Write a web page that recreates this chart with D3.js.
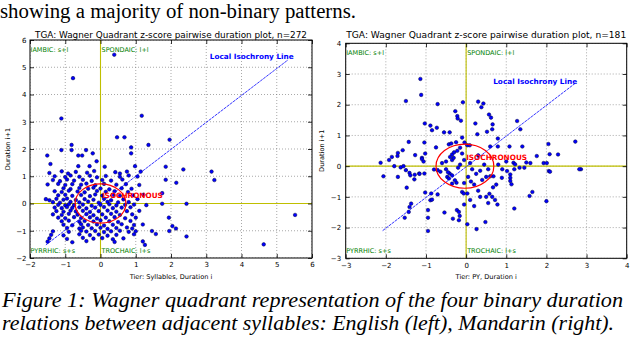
<!DOCTYPE html>
<html><head><meta charset="utf-8">
<script src="https://cdn.jsdelivr.net/npm/d3@7"></script>
<style>body{margin:0;background:#fff}svg{display:block}</style>
</head><body><svg id="c" width="630" height="338"></svg>
<script>
const topText = "showing a majority of non-binary patterns.";
const captionLines = ["Figure 1: Wagner quadrant representation of the four binary duration",
                      "relations between adjacent syllables: English (left), Mandarin (right)."];
const quadrantLabels = ["IAMBIC: s+l", "SPONDAIC: l+l", "PYRRHIC: s+s", "TROCHAIC: l+s"];
const titles = ["TGA: Wagner Quadrant z-score pairwise duration plot, n=272",
                "TGA: Wagner Quadrant z-score pairwise duration plot, n=181"];
const xLabels = ["Tier: Syllables, Duration i", "Tier: PY, Duration i"];
const yLabel = "Duration i+1";
const englishXTicks = [-2,-1,0,1,2,3,4,5,6];
const englishYTicks = [-2,-1,0,1,2,3,4,5,6];
const mandarinXTicks = [-3,-2,-1,0,1,2,3,4];
const mandarinYTicks = [-3,-2,-1,0,1,2,3,4];
const englishIsoLine = [[-1.55,-1.52],[5.32,5.27]];
const mandarinIsoLine = [[-2.08,-2.1],[2.72,2.7]];
const isoRadius = 0.72;

const englishPoints = [
 [0.39,5.46],[-0.78,4.6],[-1.11,3.12],[1.17,3.22],[0.47,2.43],[0.68,2.43],[0.87,2.06],[0.87,1.84],[1.36,2.15],[1.96,2.34],
 [-1.51,1.76],[-1.42,1.45],[-1.11,1.96],[-0.82,2.15],[-0.82,1.96],[-0.63,1.76],[-0.52,1.76],[-0.41,1.96],[-0.22,1.84],[-0.11,1.55],
 [-0.63,1.37],[-0.31,1.37],[0.98,1.37],[1.85,1.35],[2.35,1.25],[0.12,1.35],
 [1.14,1.17],[3.15,1.17],[3.23,0.86],[1.85,0.87],[2.15,0.76],[1.75,0.38],[1.75,-0.01],[2.44,-0.01],[1.94,-0.52],[2.04,-0.83],
 [1.95,-1.01],[2.14,-0.92],[2.44,-1.21],[1.57,-1.12],[5.52,-0.42],[4.63,-1.5],[1.46,-1.01],[1.26,-1.52],
 [-1.45,1.12],[-1.1,1.18],[-0.92,1.1],[-0.7,1.16],[-0.38,1.13],[-0.18,1.19],[0.42,1.15],[0.55,1.1],[0.75,1.17],
 [-1.3,1.0],[-1.0,0.97],[-0.85,1.03],[-0.6,0.98],[-0.3,1.02],[-0.1,0.96],[0.15,1.01],[0.55,0.98],[0.8,1.03],[1.05,0.99],
 [-1.35,0.86],[-1.15,0.82],[-0.95,0.88],[-0.75,0.84],[-0.5,0.87],[-0.25,0.83],[0.05,0.86],[0.3,0.84],[0.62,0.88],
 [-1.5,0.7],[-1.2,0.72],[-1.0,0.68],[-0.8,0.71],[-0.55,0.69],[-0.4,0.73],[-0.15,0.67],[0.1,0.72],[0.45,0.69],[0.72,0.71],[1.1,0.68],
 [-1.05,0.56],[-0.85,0.53],[-0.6,0.57],[-0.35,0.54],[-0.2,0.58],[0.0,0.55],[0.25,0.52],[0.6,0.56],[0.88,0.54],
 [-1.3,0.45],[-1.1,0.42],[-0.9,0.47],[-0.65,0.44],[-0.45,0.41],[-0.1,0.46],[0.15,0.43],[0.4,0.45],[0.78,0.42],
 [-1.2,0.3],[-1.0,0.32],[-0.8,0.28],[-0.55,0.31],[-0.3,0.27],[-0.15,0.33],[0.05,0.29],[0.35,0.31],[0.55,0.28],[0.92,0.3],[1.22,0.32],
 [-1.55,0.16],[-1.45,0.12],[-1.25,0.17],[-1.05,0.14],[-0.95,0.18],[-0.7,0.13],[-0.45,0.16],[-0.2,0.14],[0.1,0.17],[0.3,0.12],[0.65,0.15],[1.05,0.16],
 [-1.35,0.05],[-1.15,0.03],[-0.85,0.06],[-0.6,0.04],[-0.35,0.07],[-0.05,0.03],[0.2,0.06],[0.5,0.04],[0.8,0.05],
 [-1.2,-0.05],[-1.0,-0.07],[-0.9,-0.03],[-0.75,-0.06],[-0.5,-0.04],[-0.25,-0.08],[0.0,-0.05],[0.25,-0.03],[0.45,-0.07],[0.7,-0.05],[0.95,-0.04],[1.3,-0.06],
 [-1.3,-0.15],[-1.1,-0.17],[-0.95,-0.13],[-0.8,-0.16],[-0.6,-0.14],[-0.4,-0.18],[-0.15,-0.15],[0.1,-0.13],[0.35,-0.17],[0.6,-0.15],[0.85,-0.14],
 [-1.25,-0.28],[-1.05,-0.3],[-0.85,-0.26],[-0.7,-0.29],[-0.5,-0.27],[-0.3,-0.31],[-0.05,-0.28],[0.2,-0.26],[0.45,-0.3],[0.75,-0.28],[1.1,-0.27],
 [-1.35,-0.4],[-1.1,-0.42],[-0.9,-0.38],[-0.65,-0.41],[-0.4,-0.39],[-0.2,-0.43],[0.05,-0.4],[0.3,-0.38],[0.55,-0.42],[0.9,-0.4],
 [-1.2,-0.52],[-1.0,-0.54],[-0.75,-0.5],[-0.55,-0.53],[-0.3,-0.51],[-0.1,-0.55],[0.15,-0.52],[0.4,-0.5],[0.7,-0.54],[1.0,-0.52],
 [-1.1,-0.65],[-0.9,-0.63],[-0.6,-0.67],[-0.45,-0.64],[-0.2,-0.66],[0.0,-0.62],[0.25,-0.65],[0.5,-0.68],[0.85,-0.64],
 [-1.05,-0.78],[-0.8,-0.8],[-0.55,-0.76],[-0.35,-0.79],[-0.1,-0.77],[0.1,-0.81],[0.35,-0.78],[0.6,-0.76],[0.95,-0.79],[1.2,-0.77],
 [-0.95,-0.9],[-0.6,-0.92],[-0.5,-0.88],[-0.25,-0.91],[0.0,-0.89],[0.2,-0.93],[0.45,-0.9],[0.75,-0.88],[0.9,-0.92],
 [-1.35,-1.02],[-0.9,-1.04],[-0.55,-1.0],[-0.4,-1.03],[-0.15,-1.01],[0.1,-1.05],[0.3,-1.02],[0.55,-1.0],[0.8,-1.04],[1.0,-1.02],
 [-1.4,-1.15],[-1.05,-1.17],[-0.6,-1.13],[-0.3,-1.16],[-0.05,-1.14],[0.2,-1.18],[0.45,-1.15],[0.95,-1.13],
 [-1.45,-1.28],[-0.95,-1.3],[-0.5,-1.26],[-0.2,-1.29],[0.05,-1.27],[0.35,-1.31],[0.65,-1.28],
 [-1.5,-1.4],[-0.8,-1.42],[-0.4,-1.38],[0.4,-1.41],[1.2,-1.39]
];

const mandarinPoints = [
 [-1.14,2.84],[-1.12,2.32],[-1.5,2.12],[-0.71,2.02],[-0.08,2.08],[0.3,2.1],[0.43,2.04],[0.38,1.92],[-0.27,1.79],[-0.22,1.63],
 [-0.21,1.55],[-0.13,1.48],[0.57,1.68],[0.62,1.58],[0.23,1.39],[0.66,1.36],[0.65,1.2],[1.27,1.47],[1.35,1.2],[-1.03,1.39],
 [-0.89,1.32],[-0.85,1.17],[-0.73,1.25],[-0.55,1.1],[-0.41,1.1],[0.28,1.04],[0.52,1.12],[-0.1,0.93],[-0.04,0.77],[0.03,0.68],
 [0.09,0.68],[0.79,0.9],[0.79,0.64],[1.08,0.64],[1.4,0.64],[2.05,0.72],[2.72,0.8],[-1.43,0.79],[-1.04,0.77],[-1.27,0.36],
 [-1.58,0.52],[-1.7,0.43],[-1.71,0.33],[-1.85,0.3],[-1.92,0.2],[-2.13,0.11],[-1.1,0.27],[-1.02,0.41],[-0.75,0.61],[-0.43,0.71],
 [-0.37,0.74],[-0.25,0.78],[-0.35,0.2],[-0.31,0.27],[-0.1,0.41],[0.6,0.64],[1.76,0.33],[2.08,0.39],[2.29,0.38],[1.93,0.1],
 [2.01,0.1],[1.6,0.1],[1.18,0.11],[1.22,0.06],[2.86,-0.1],
 [-1.79,0.0],[-1.63,-0.04],[-1.56,0.0],[-2.06,-0.33],[-1.7,-0.35],[-1.5,-0.13],[-1.41,-0.22],[-1.29,-0.43],[-1.48,-0.7],[-1.17,-0.24],
 [-1.04,-0.24],[-1.02,-0.86],[-0.87,-0.89],[-0.89,-1.11],[-0.85,-1.09],[-1.37,-1.22],[-1.41,-1.33],[-1.43,-1.49],[-1.53,-1.68],[-0.95,-1.43],
 [-0.95,-1.68],[-0.95,-2.11],[-0.54,-1.51],[-0.33,-1.71],[-0.23,-1.43],[-0.18,-1.49],[-0.16,-1.62],[-0.18,-1.76],[0.03,-1.89],[0.26,-2.05],
 [0.48,-1.82],[-0.8,-0.11],[-0.71,-0.13],[-0.64,-0.18],[-0.71,-0.92],[-0.47,-0.35],[-0.43,-0.4],[-0.41,-0.24],[-0.35,-0.57],[-0.24,-0.54],
 [-0.28,-0.46],[-0.1,-0.84],[-0.06,-0.89],[0.03,-0.89],[-1.1,0.23],[-1.06,0.15],[-1.39,-0.3],[-1.28,-0.28],[-1.16,-0.25],
 [-0.6,0.1],[-0.5,0.15],[-0.4,0.3],[-0.35,0.38],[-0.3,0.45],[-0.22,0.5],[-0.15,0.6],[-0.5,-0.1],[-0.45,-0.2],[-0.35,-0.3],
 [-0.2,-0.05],[-0.15,0.05],[-0.05,0.2],[0.1,0.1],[0.15,-0.1],[0.25,-0.25],[0.35,-0.15],[0.45,0.05],[0.55,-0.1],[0.3,0.35],
 [0.05,-0.35],[0.12,-0.5],[0.2,-0.6],[0.4,-0.45],[0.5,-0.35],[-0.05,-0.55],
 [0.58,-0.9],[0.65,-1.0],[0.55,-1.2],[0.3,-0.8],[0.35,-1.0],[0.1,-1.1],[0.2,-1.3],[-0.05,-1.25],[0.5,-1.0],[0.72,-1.1],
 [0.78,-1.25],[1.2,-1.38],[1.65,-0.84],[1.58,-0.97],[2.0,-1.14],[0.67,-0.69],[0.89,-0.38],[0.68,-0.33],[0.6,-0.33],[1.1,-0.27],
 [1.1,-0.38],[1.1,-0.48],[1.02,-0.16],[1.2,-0.1],[1.33,-0.05],[1.45,-0.05],[2.06,-0.16],[2.82,-0.1],[1.13,-0.59],[2.09,-0.18],
 [0.9,-0.1],[0.8,0.05],[1.0,0.15],[1.5,0.12],[0.75,-0.6]
];

const svg = d3.select("#c");
svg.append("rect").attr("width",630).attr("height",338).attr("fill","#fff");
const SANS = "DejaVu Sans, sans-serif";
const SERIF = "Liberation Serif, serif";
const fmt = d => d < 0 ? "\u2212" + Math.abs(d) : String(d);

function panel(o) {
  const x = d3.scaleLinear().domain(o.xd).range([o.left, o.right]);
  const y = d3.scaleLinear().domain(o.yd).range([o.bottom, o.top]);
  const g = svg.append("g");
  const clipId = o.id + "clip";
  svg.append("clipPath").attr("id", clipId).append("rect")
    .attr("x", o.left).attr("y", o.top).attr("width", o.right - o.left).attr("height", o.bottom - o.top);
  const inner = g.append("g").attr("clip-path", `url(#${clipId})`);
  inner.selectAll(".gx").data(o.xt).join("line")
    .attr("x1", d => x(d)).attr("x2", d => x(d)).attr("y1", o.top).attr("y2", o.bottom)
    .attr("stroke", "#6e6e6e").attr("stroke-width", 0.6).attr("stroke-dasharray", "1,2");
  inner.selectAll(".gy").data(o.yt).join("line")
    .attr("y1", d => y(d)).attr("y2", d => y(d)).attr("x1", o.left).attr("x2", o.right)
    .attr("stroke", "#6e6e6e").attr("stroke-width", 0.6).attr("stroke-dasharray", "1,2");
  inner.append("line").attr("x1", x(0)).attr("x2", x(0)).attr("y1", o.top).attr("y2", o.bottom)
    .attr("stroke", "#bfbf00").attr("stroke-width", 1.1);
  inner.append("line").attr("y1", y(0)).attr("y2", y(0)).attr("x1", o.left).attr("x2", o.right)
    .attr("stroke", "#bfbf00").attr("stroke-width", 1.1);
  inner.selectAll("circle.pt").data(o.points).join("circle").attr("class", "pt")
    .attr("cx", d => x(d[0])).attr("cy", d => y(d[1])).attr("r", 1.8)
    .attr("fill", "#0000ff").attr("stroke", "#000040").attr("stroke-width", 0.5);
  inner.append("path").attr("d", d3.line().x(d => x(d[0])).y(d => y(d[1]))(o.iso))
    .attr("stroke", "#0000ff").attr("stroke-width", 0.8).attr("fill", "none").attr("stroke-dasharray", "3,0.8");
  inner.append("ellipse").attr("cx", x(o.ec)).attr("cy", y(0))
    .attr("rx", x(isoRadius) - x(0)).attr("ry", y(0) - y(isoRadius))
    .attr("fill", "none").attr("stroke", "#ff0000").attr("stroke-width", 1.2);
  const ql = [[o.left + 0.5, o.top + 12], [x(0) + 1, o.top + 12], [o.left + 0.5, o.bottom - 5], [x(0) + 1, o.bottom - 5]];
  g.selectAll("text.q").data(quadrantLabels).join("text").attr("class", "q")
    .attr("x", (d, i) => ql[i][0]).attr("y", (d, i) => ql[i][1])
    .attr("font-family", SANS).attr("font-size", 6.5).attr("fill", "#008000").text(d => d);
  g.append("text").attr("x", x(o.isoLabel[0])).attr("y", y(o.isoLabel[1]))
    .attr("font-family", SANS).attr("font-size", 7.3).attr("font-weight", "bold").attr("fill", "#0000ff")
    .text("Local Isochrony Line");
  g.append("text").attr("x", x(o.isoText[0])).attr("y", y(o.isoText[1]))
    .attr("font-family", SANS).attr("font-size", 7.3).attr("font-weight", "bold").attr("fill", "#ff0000")
    .text("ISOCHRONOUS");
  g.append("rect").attr("x", o.left).attr("y", o.top).attr("width", o.right - o.left).attr("height", o.bottom - o.top)
    .attr("fill", "none").attr("stroke", "#000").attr("stroke-width", 1);
  const style = s => { s.select(".domain").remove(); s.attr("font-family", SANS).attr("font-size", 7);
    s.selectAll("line").attr("stroke", "#000").attr("stroke-width", 0.8); s.selectAll("text").attr("fill", "#000"); };
  g.append("g").attr("transform", `translate(0,${o.bottom})`)
    .call(d3.axisBottom(x).tickValues(o.xt).tickSize(-4).tickPadding(4.5).tickFormat(fmt)).call(style);
  g.append("g").attr("transform", `translate(0,${o.top})`)
    .call(d3.axisTop(x).tickValues(o.xt).tickSize(-4).tickFormat("")).call(style);
  g.append("g").attr("transform", `translate(${o.left},0)`)
    .call(d3.axisLeft(y).tickValues(o.yt).tickSize(-4).tickPadding(o.ypad).tickFormat(fmt)).call(style);
  g.append("g").attr("transform", `translate(${o.right},0)`)
    .call(d3.axisRight(y).tickValues(o.yt).tickSize(-4).tickFormat("")).call(style);
  g.append("text").attr("x", (o.left + o.right) / 2).attr("y", o.titleY).attr("text-anchor", "middle")
    .attr("font-family", SANS).attr("font-size", 8.5).attr("textLength", o.titleW).attr("lengthAdjust", "spacingAndGlyphs")
    .text(o.title);
  g.append("text").attr("x", (o.left + o.right) / 2).attr("y", 279).attr("text-anchor", "middle")
    .attr("font-family", SANS).attr("font-size", 6.6).text(o.xlabel);
  g.append("text").attr("transform", `translate(${o.ylabX},${(o.top + o.bottom) / 2}) rotate(-90)`)
    .attr("text-anchor", "middle").attr("font-family", SANS).attr("font-size", 6.6).text(yLabel);
}

panel({id: "eng", left: 30, right: 312, top: 40, bottom: 258, xd: [-2, 6], yd: [-2, 6],
  xt: englishXTicks, yt: englishYTicks, points: englishPoints, iso: englishIsoLine, ec: 0,
  isoLabel: [3.1, 5.29], isoText: [0.04, 0.2], ypad: 3.5, title: titles[0], titleY: 38, titleW: 272,
  xlabel: xLabels[0], ylabX: 9.5});
panel({id: "man", left: 345.7, right: 626.7, top: 43.3, bottom: 258.3, xd: [-3, 4], yd: [-3, 4],
  xt: mandarinXTicks, yt: mandarinYTicks, points: mandarinPoints, iso: mandarinIsoLine, ec: -0.03,
  isoLabel: [0.675, 2.66], isoText: [0.0, 0.2], ypad: 4.5, title: titles[1], titleY: 38, titleW: 280,
  xlabel: xLabels[1], ylabX: 323.5});

svg.append("text").attr("x", 0).attr("y", 18).attr("font-family", SERIF).attr("font-size", 20.5)
  .attr("textLength", 356).attr("lengthAdjust", "spacingAndGlyphs").text(topText);
const capW = [621, 612];
svg.selectAll("text.cap").data(captionLines).join("text").attr("class", "cap")
  .attr("x", 2).attr("y", (d, i) => 307 + i * 23)
  .attr("font-family", SERIF).attr("font-style", "italic").attr("font-size", 22)
  .attr("textLength", (d, i) => capW[i]).attr("lengthAdjust", "spacingAndGlyphs").text(d => d);
</script></body></html>
